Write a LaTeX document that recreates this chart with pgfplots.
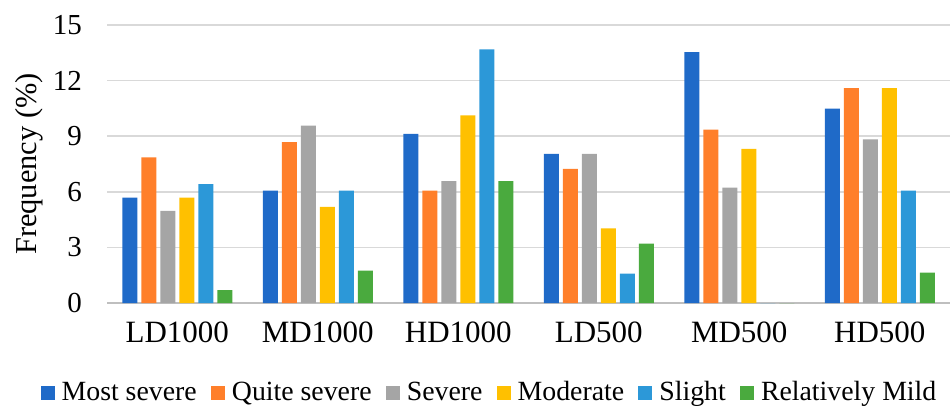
\documentclass[border=0pt]{standalone}
\usepackage{fontspec}
\setmainfont{Liberation Serif}
\usepackage{pgfplots}
\pgfplotsset{compat=1.18}
\definecolor{cMost}{RGB}{31,106,200}
\definecolor{cQuite}{RGB}{255,127,42}
\definecolor{cSevere}{RGB}{165,165,165}
\definecolor{cMod}{RGB}{255,192,0}
\definecolor{cSlight}{RGB}{44,152,216}
\definecolor{cMild}{RGB}{74,170,62}
\begin{document}
\begin{tikzpicture}
\useasboundingbox (0,0) rectangle (476pt,203.5pt);
\begin{axis}[
  at={(53.5pt,52pt)}, anchor=south west,
  scale only axis, width=421.5pt, height=139pt,
  ybar=2pt, bar width=7.5pt,
  xmin=-0.5, xmax=5.5, ymin=0, ymax=15,
  ytick={0,3,6,9,12,15},
  xtick={0,1,2,3,4,5},
  xticklabels={LD1000,MD1000,HD1000,LD500,MD500,HD500},
  /pgf/number format/assume math mode=true,
  axis lines*=left,
  x axis line style={draw=black!25, line width=0.8pt, -},
  y axis line style={draw=none},
  major tick length=0pt,
  ymajorgrids, grid style={draw=black!15, line width=0.8pt},
  yticklabel style={font=\rmfamily\fontsize{14.5}{16}\selectfont, anchor=east, xshift=-9pt},
  xticklabel style={font=\rmfamily\fontsize{15.5}{17}\selectfont, yshift=-6pt},
  ylabel={Frequency (\%)},
  every axis y label/.style={at={(axis description cs:-0.0925,0.5)}, rotate=90, anchor=center, font=\rmfamily\fontsize{15.2}{17}\selectfont},
  legend columns=-1,
  legend style={at={(axis description cs:0.4543,-0.322)}, anchor=center, draw=none, fill=none,
    font=\rmfamily\fontsize{13.9}{16}\selectfont, nodes={inner sep=1.5pt},
    /tikz/every odd column/.append style={column sep=2pt},
    /tikz/every even column/.append style={column sep=5.6pt}},
  legend image code/.code={\fill[#1] (0pt,-3.5pt) rectangle (7pt,3.5pt);},
]
\addplot[fill=cMost, draw=none] coordinates {(0,5.69) (1,6.07) (2,9.12) (3,8.05) (4,13.53) (5,10.49)};
\addplot[fill=cQuite, draw=none] coordinates {(0,7.86) (1,8.68) (2,6.07) (3,7.24) (4,9.35) (5,11.59)};
\addplot[fill=cSevere, draw=none] coordinates {(0,4.97) (1,9.57) (2,6.58) (3,8.05) (4,6.23) (5,8.83)};
\addplot[fill=cMod, draw=none] coordinates {(0,5.69) (1,5.19) (2,10.13) (3,4.02) (4,8.32) (5,11.59)};
\addplot[fill=cSlight, draw=none] coordinates {(0,6.41) (1,6.07) (2,13.68) (3,1.59) (4,0) (5,6.07)};
\addplot[fill=cMild, draw=none] coordinates {(0,0.70) (1,1.75) (2,6.58) (3,3.21) (4,0) (5,1.64)};
\legend{Most severe, Quite severe, Severe, Moderate, Slight, Relatively Mild}
\end{axis}
\end{tikzpicture}
\end{document}
